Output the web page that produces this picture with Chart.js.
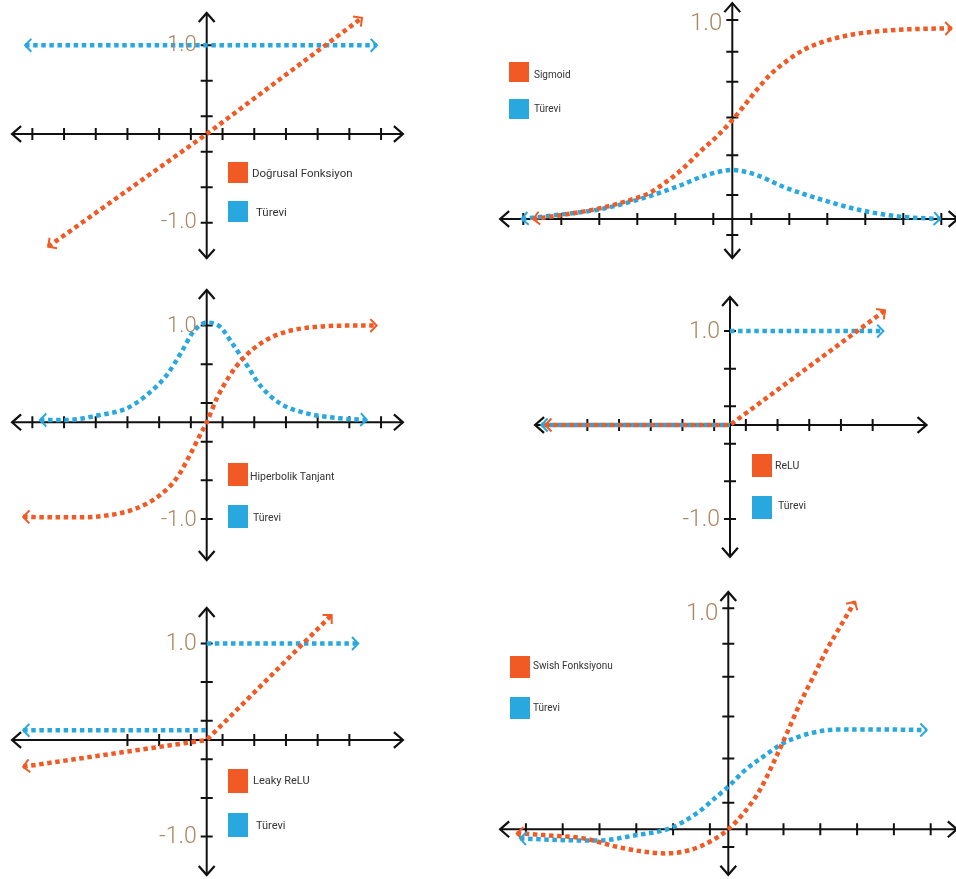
<!DOCTYPE html>
<html>
<head>
<meta charset="utf-8">
<script src="https://cdn.jsdelivr.net/npm/chart.js@4.4.1/dist/chart.umd.min.js"></script>
<style>
  body { margin: 0; background: #fff; }
  #page { position: relative; width: 956px; height: 879px; overflow: hidden; background: #fff; }
  canvas { position: absolute; }
  .sq { position: absolute; width: 20px; }
  .lt { position: absolute; font-family: Roboto, "Noto Sans", sans-serif; color: #333; white-space: nowrap; transform: translateY(-50%); }
</style>
</head>
<body>
<div id="page"></div>
<script>
const ORANGE = 'rgb(241, 90, 36)';
const BLUE = 'rgb(41, 168, 224)';

// tick positions (x in "tick units", y in function units)
const xTicksWide = [-5.5, -4.5, -3.5, -2.5, -1.5, -0.5, 0.5, 1.5, 2.5, 3.5, 4.5, 5.5];
const xTicksReLU = [-4.5, -3.5, -2.5, -1.5, -0.5, 0.5, 1.5, 2.5, 3.5, 4.5];
const xTicksLeaky = [-2.5, -1.5, -0.5, 0.5, 1.5, 2.5, 3.5, 4.5];
const yTicksSym = [-1.0, -0.6, -0.2, 0.2, 0.6, 1.0];
const yTicksPos = [-0.08, 0.12, 0.32, 0.51, 0.69, 0.84, 1.0];
const yLabelValues = [1.0, -1.0];
const yLabelTexts = ['1.0', '-1.0'];

// Doğrusal fonksiyon
const linX = [-5.0, 0, 4.9];
const linY = [-1.27, 0, 1.31];
const linDX = [-5.73, 5.37];
const linDY = [1.0, 1.0];

// Sigmoid
const sigX = [-5.24, -4.49, -3.48, -2.69, -2.17, -1.73, -1.29, -0.85, -0.41, 0, 0.29, 0.64, 0.99, 1.35, 1.87, 2.40, 3.10, 3.71, 4.59, 5.77];
const sigY = [0.0, 0.02, 0.054, 0.095, 0.132, 0.188, 0.255, 0.338, 0.414, 0.497, 0.564, 0.648, 0.724, 0.782, 0.849, 0.891, 0.925, 0.941, 0.953, 0.958];
const sigDX = [-5.54, -4.62, -3.48, -2.52, -1.46, -0.67, 0, 0.64, 1.34, 2.39, 3.36, 4.41, 5.47];
const sigDY = [0.0, 0.02, 0.049, 0.095, 0.162, 0.221, 0.246, 0.221, 0.162, 0.095, 0.045, 0.012, 0.0];

// Hiperbolik tanjant
const tanhX = [-5.79, -5.15, -4.0, -3.05, -2.21, -1.47, -0.95, -0.53, -0.21, 0, 0.32, 0.74, 1.15, 1.79, 2.52, 3.57, 4.62, 5.36];
const tanhY = [-0.976, -0.982, -0.982, -0.959, -0.889, -0.752, -0.579, -0.338, -0.131, 0, 0.248, 0.489, 0.662, 0.834, 0.937, 0.99, 1.0, 1.0];
const tanhDX = [-5.26, -4.42, -3.37, -2.52, -1.89, -1.26, -0.79, -0.42, 0, 0.42, 0.84, 1.26, 1.68, 2.31, 3.15, 4.2, 5.05];
const tanhDY = [0.024, 0.024, 0.075, 0.145, 0.282, 0.489, 0.73, 0.937, 1.03, 0.989, 0.799, 0.596, 0.385, 0.196, 0.093, 0.041, 0.024];

// ReLU
const reluX = [-5.83, 0, 4.89];
const reluY = [0, 0, 1.22];
const reluDX = [-5.95, 0, 0, 0, 4.84];
const reluDY = [0, 0, null, 1.0, 1.0];

// Leaky ReLU
const leakyX = [-5.79, 0, 3.94];
const leakyY = [-0.277, 0, 1.295];
const leakyDX = [-5.79, 0, 0, 0, 4.78];
const leakyDY = [0.1, 0.1, null, 1.0, 1.0];

// Swish
const swishX = [-5.75, -5.03, -3.94, -3.03, -2.31, -1.67, -1.04, -0.5, 0, 0.41, 0.86, 1.22, 1.59, 1.95, 2.31, 2.67, 3.04, 3.44];
const swishY = [-0.018, -0.026, -0.041, -0.079, -0.101, -0.109, -0.094, -0.056, 0, 0.072, 0.178, 0.299, 0.434, 0.57, 0.69, 0.811, 0.917, 1.03];
const swishDX = [-5.66, -4.66, -3.58, -2.49, -1.58, -0.86, -0.32, 0, 0.41, 0.95, 1.49, 2.22, 3.04, 3.94, 5.39];
const swishDY = [-0.041, -0.048, -0.051, -0.026, 0.005, 0.072, 0.147, 0.193, 0.261, 0.329, 0.389, 0.434, 0.452, 0.452, 0.449];

const panels = [
  { box: [0, 0, 478, 285], origin: [206.7, 134], unit: [31.7, 88.7],
    xAxis: [-6.14, 6.19], yAxis: [-1.40, 1.364], xTicks: xTicksWide, yTicks: yTicksSym,
    nLabels: 2, labelSize: 22, labelDy: 0,
    series: [['Doğrusal Fonksiyon', linX, linY, ORANGE, false], ['Türevi', linDX, linDY, BLUE, false]],
    legend: { font: 11.5, h: 21, items: [[228, 162, 252, 173], [228, 201, 256, 212]] } },
  { box: [478, 0, 478, 285], origin: [732.3, 219], unit: [38, 199],
    xAxis: [-6.11, 5.93], yAxis: [-0.196, 1.085], xTicks: xTicksWide, yTicks: yTicksPos,
    nLabels: 1, labelSize: 24, labelDy: 4,
    series: [['Sigmoid', sigX, sigY, ORANGE, true], ['Türevi', sigDX, sigDY, BLUE, true]],
    legend: { font: 10, h: 20, items: [[509, 62, 534, 74], [509, 99, 534, 108]] } },
  { box: [0, 285, 478, 300], origin: [206.7, 422.3], unit: [31.7, 96.7],
    xAxis: [-6.14, 6.19], yAxis: [-1.424, 1.368], xTicks: xTicksWide, yTicks: yTicksSym,
    nLabels: 2, labelSize: 22, labelDy: 1,
    series: [['Hiperbolik Tanjant', tanhX, tanhY, ORANGE, true], ['Türevi', tanhDX, tanhDY, BLUE, true]],
    legend: { font: 10.5, h: 23, items: [[228, 463, 250, 476], [228, 505, 253, 517]] } },
  { box: [478, 285, 478, 300], origin: [730, 425], unit: [31.7, 93.9],
    xAxis: [-6.15, 6.2], yAxis: [-1.403, 1.363], xTicks: xTicksReLU, yTicks: yTicksSym,
    nLabels: 2, labelSize: 23, labelDy: 1,
    series: [['ReLU', reluX, reluY, ORANGE, false], ['Türevi', reluDX, reluDY, BLUE, false]],
    legend: { font: 10.5, h: 23, items: [[752, 454, 775, 465], [752, 496, 778, 505]] } },
  { box: [0, 585, 478, 294], origin: [206.7, 740], unit: [31.7, 96.5],
    xAxis: [-6.14, 6.19], yAxis: [-1.399, 1.368], xTicks: xTicksLeaky, yTicks: yTicksSym,
    nLabels: 2, labelSize: 23, labelDy: 1,
    series: [['Leaky ReLU', leakyX, leakyY, ORANGE, false], ['Türevi', leakyDX, leakyDY, BLUE, false]],
    legend: { font: 11, h: 24, items: [[228, 769, 253, 780], [228, 813, 256, 825]] } },
  { box: [478, 585, 478, 294], origin: [728.3, 829.3], unit: [36.8, 221],
    xAxis: [-6.2, 6.21], yAxis: [-0.206, 1.074], xTicks: xTicksWide, yTicks: yTicksPos,
    nLabels: 1, labelSize: 24, labelDy: 6,
    series: [['Swish Fonksiyonu', swishX, swishY, ORANGE, true], ['Türevi', swishDX, swishDY, BLUE, true]],
    legend: { font: 10, h: 22, items: [[510, 656, 533, 665], [510, 697, 533, 707]] } }
];

function chevron(ctx, x, y, ang, len, spread) {
  ctx.beginPath();
  ctx.moveTo(x + len * Math.cos(ang + Math.PI - spread), y + len * Math.sin(ang + Math.PI - spread));
  ctx.lineTo(x, y);
  ctx.lineTo(x + len * Math.cos(ang + Math.PI + spread), y + len * Math.sin(ang + Math.PI + spread));
  ctx.stroke();
}

const crossAxes = {
  id: 'crossAxes',
  beforeDatasetsDraw(chart, args, opts) {
    const { ctx, scales: { x, y } } = chart;
    const x0 = x.getPixelForValue(0), y0 = y.getPixelForValue(0);
    const xa = x.getPixelForValue(opts.xAxis[0]), xb = x.getPixelForValue(opts.xAxis[1]);
    const ya = y.getPixelForValue(opts.yAxis[0]), yb = y.getPixelForValue(opts.yAxis[1]);
    ctx.save();
    ctx.strokeStyle = '#111';
    ctx.lineWidth = 2;
    ctx.setLineDash([]);
    ctx.beginPath();
    ctx.moveTo(xa, y0); ctx.lineTo(xb, y0);
    ctx.moveTo(x0, ya); ctx.lineTo(x0, yb);
    opts.xTicks.forEach(v => {
      const p = x.getPixelForValue(v);
      ctx.moveTo(p, y0 - 6); ctx.lineTo(p, y0 + 6);
    });
    opts.yTicks.forEach(v => {
      const p = y.getPixelForValue(v);
      ctx.moveTo(x0 - 6, p); ctx.lineTo(x0 + 6, p);
    });
    ctx.stroke();
    ctx.lineWidth = 2.2;
    chevron(ctx, xa, y0, Math.PI, 12, 0.72);
    chevron(ctx, xb, y0, 0, 12, 0.72);
    chevron(ctx, x0, ya, Math.PI / 2, 12, 0.72);
    chevron(ctx, x0, yb, -Math.PI / 2, 12, 0.72);
    ctx.restore();
  },
  afterDatasetsDraw(chart, args, opts) {
    const { ctx, scales: { x, y } } = chart;
    ctx.save();
    ctx.setLineDash([]);
    ctx.lineWidth = 2;
    chart.data.datasets.forEach((ds, i) => {
      const pts = chart.getDatasetMeta(i).data.filter(p => !p.skip);
      if (pts.length < 2) return;
      ctx.strokeStyle = ds.borderColor;
      const a = pts[0], b = pts[1];
      const ra = (a.cp2x !== undefined && Math.hypot(a.cp2x - a.x, a.cp2y - a.y) > 0.5) ? { x: a.cp2x, y: a.cp2y } : b;
      chevron(ctx, a.x, a.y, Math.atan2(a.y - ra.y, a.x - ra.x), 9, 0.8);
      const c = pts[pts.length - 1], d = pts[pts.length - 2];
      const rc = (c.cp1x !== undefined && Math.hypot(c.cp1x - c.x, c.cp1y - c.y) > 0.5) ? { x: c.cp1x, y: c.cp1y } : d;
      chevron(ctx, c.x, c.y, Math.atan2(c.y - rc.y, c.x - rc.x), 9, 0.8);
    });
    const x0 = x.getPixelForValue(0);
    ctx.fillStyle = '#ab8660';
    ctx.font = `300 ${opts.labelSize}px Roboto`;
    ctx.textAlign = 'right';
    ctx.textBaseline = 'middle';
    for (let k = 0; k < opts.nLabels; k++) {
      ctx.fillText(yLabelTexts[k], x0 - 10, y.getPixelForValue(yLabelValues[k]) + opts.labelDy);
    }
    ctx.restore();
  }
};

const page = document.getElementById('page');

panels.forEach(p => {
  const [bx, by, bw, bh] = p.box;
  const canvas = document.createElement('canvas');
  canvas.width = bw; canvas.height = bh;
  canvas.style.left = bx + 'px'; canvas.style.top = by + 'px';
  page.appendChild(canvas);

  const datasets = p.series.map(([label, xs, ys, color, smooth]) => ({
    label: label,
    data: xs.map((v, i) => ({ x: v, y: ys[i] })),
    borderColor: color,
    backgroundColor: color,
    borderWidth: 4.5,
    borderDash: [4.5, 3.6],
    borderCapStyle: 'butt',
    pointRadius: 0,
    fill: false,
    tension: smooth ? 0.4 : 0,
    cubicInterpolationMode: smooth ? 'monotone' : 'default',
    spanGaps: false
  }));

  new Chart(canvas.getContext('2d'), {
    type: 'line',
    data: { datasets: datasets },
    options: {
      responsive: false,
      animation: false,
      events: [],
      layout: { padding: 0, autoPadding: false },
      plugins: {
        legend: { display: false },
        tooltip: { enabled: false },
        crossAxes: { xAxis: p.xAxis, yAxis: p.yAxis, xTicks: p.xTicks, yTicks: p.yTicks,
                     nLabels: p.nLabels, labelSize: p.labelSize, labelDy: p.labelDy }
      },
      scales: {
        x: { type: 'linear', display: false,
             min: (bx - p.origin[0]) / p.unit[0], max: (bx + bw - p.origin[0]) / p.unit[0] },
        y: { type: 'linear', display: false,
             min: (p.origin[1] - (by + bh)) / p.unit[1], max: (p.origin[1] - by) / p.unit[1] }
      }
    },
    plugins: [crossAxes]
  });

  // legend built from the dataset labels and colours
  datasets.forEach((ds, i) => {
    const [sx, sy, tx, ty] = p.legend.items[i];
    const sq = document.createElement('div');
    sq.className = 'sq';
    sq.style.left = sx + 'px'; sq.style.top = sy + 'px';
    sq.style.height = p.legend.h + 'px';
    sq.style.background = ds.borderColor;
    page.appendChild(sq);
    const t = document.createElement('div');
    t.className = 'lt';
    t.style.left = tx + 'px'; t.style.top = ty + 'px';
    t.style.fontSize = p.legend.font + 'px';
    t.textContent = ds.label;
    page.appendChild(t);
  });
});
</script>
</body>
</html>
